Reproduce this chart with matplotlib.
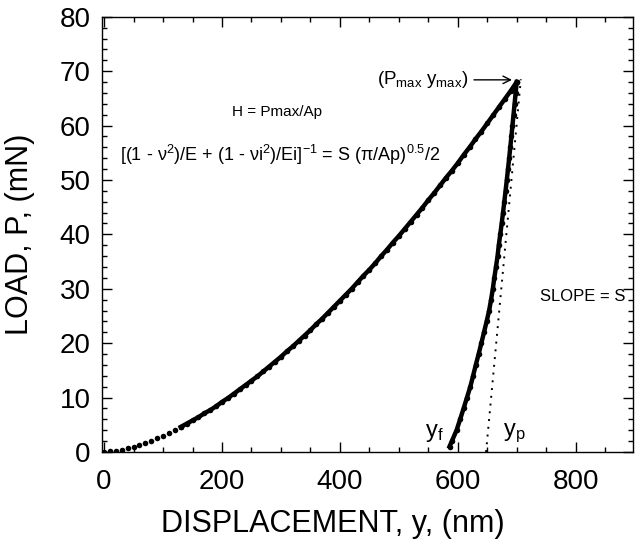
import matplotlib
matplotlib.use("Agg")
import matplotlib.pyplot as plt
from matplotlib.ticker import MultipleLocator

# 字体设置，Helvetica 风格
plt.rcParams['font.family'] = ['Liberation Sans', 'DejaVu Sans']
plt.rcParams['mathtext.fontset'] = 'custom'
plt.rcParams['mathtext.rm'] = 'Liberation Sans'
plt.rcParams['mathtext.it'] = 'Liberation Sans'
plt.rcParams['mathtext.default'] = 'regular'

# 加载曲线 (nm, mN)
load_disp = [0, 10, 20, 30, 40, 50, 60, 70, 80, 90,
             100, 110, 120, 130, 140, 150, 160, 170, 180, 190,
             200, 210, 220, 230, 240, 250, 260, 270, 280, 290,
             300, 310, 320, 330, 340, 350, 360, 370, 380, 390,
             400, 410, 420, 430, 440, 450, 460, 470, 480, 490,
             500, 510, 520, 530, 540, 550, 560, 570, 580, 590,
             600, 610, 620, 630, 640, 650, 660, 670, 680, 690, 700]
load_P = [0.0, 0.1, 0.2, 0.4, 0.7, 1.0, 1.3, 1.7, 2.1, 2.6,
          3.0, 3.5, 4.0, 4.6, 5.2, 5.8, 6.4, 7.1, 7.7, 8.4,
          9.2, 9.9, 10.7, 11.5, 12.3, 13.1, 13.9, 14.8, 15.7, 16.6,
          17.5, 18.5, 19.4, 20.4, 21.4, 22.4, 23.5, 24.5, 25.6, 26.7,
          27.8, 28.9, 30.0, 31.2, 32.4, 33.5, 34.7, 36.0, 37.2, 38.5,
          39.7, 41.0, 42.3, 43.6, 44.9, 46.3, 47.6, 49.0, 50.4, 51.7,
          53.1, 54.6, 56.0, 57.5, 58.9, 60.4, 61.9, 63.4, 64.9, 66.4, 68.0]

# 卸载曲线
unload_disp = [700, 698.2, 696.4, 694.6, 692.8, 691, 689.1, 687.2, 685.2, 683.2,
               681.1, 679, 676.8, 674.5, 672.1, 669.6, 667.5, 664.8, 662, 659.5,
               656.5, 653.2, 649, 644.5, 640, 635.4, 630.6, 626, 621.3, 615.6,
               609.9, 604, 598, 590, 586]
unload_P = [68, 66, 64, 62, 60, 58, 56, 54, 52, 50,
            48, 46, 44, 42, 40, 38, 36, 34, 32, 30,
            28, 26, 24, 22, 20, 18, 16, 14, 12, 10,
            8, 6, 4, 2, 1]

# 卸载初始斜率 S (虚线)
slope_disp = [648, 707]
slope_P = [0, 68.5]

fig = plt.figure(figsize=(6.36, 5.4), dpi=100)
ax = fig.add_axes([0.160, 0.163, 0.835, 0.806])

ax.plot(load_disp[:14], load_P[:14], 'o', color='black', ms=4, mec='none')
ax.plot(load_disp[13:], load_P[13:], '-o', color='black', lw=3.2, ms=4, mec='none')
ax.plot(unload_disp, unload_P, '-o', color='black', lw=3.2, ms=4, mec='none')
ax.plot(slope_disp, slope_P, color='black', lw=1.4, ls=(0, (1, 3)))

ax.set_xlim(-4, 897)
ax.set_ylim(0, 80)
ax.xaxis.set_major_locator(MultipleLocator(200))
ax.xaxis.set_minor_locator(MultipleLocator(50))
ax.yaxis.set_major_locator(MultipleLocator(10))
ax.yaxis.set_minor_locator(MultipleLocator(2))
ax.tick_params(which='both', direction='in', top=True, right=True, width=1)
ax.tick_params(which='major', length=7, labelsize=20)
ax.tick_params(which='minor', length=3.5)
ax.tick_params(axis='x', which='major', pad=12)
ax.tick_params(axis='y', which='major', pad=8)
for s in ax.spines.values():
    s.set_linewidth(1)

ax.set_xlabel("DISPLACEMENT, y, (nm)", fontsize=22)
ax.set_ylabel("LOAD, P, (mN)", fontsize=22)
ax.xaxis.set_label_coords(0.435, -0.13)
ax.yaxis.set_label_coords(-0.125, 0.5)

# 注释文字
ax.text(293, 62.5, "H = Pmax/Ap", fontsize=11, ha='center', va='center')
ax.text(27, 54.6, r"[(1 - $\nu^2$)/E + (1 - $\nu$i$^2$)/Ei]$^{-1}$ = S ($\pi$/Ap)$^{0.5}$/2",
        fontsize=13, ha='left', va='center')
ax.annotate("(P$_{max}$ y$_{max}$)", xy=(692, 68.4), xytext=(463, 68.4),
            fontsize=13.5, ha='left', va='center',
            arrowprops=dict(arrowstyle='->', color='black', lw=1,
                            shrinkA=2, shrinkB=0))
ax.text(739, 28.5, "SLOPE = S", fontsize=12, ha='left', va='center')
ax.text(544, 3.5, "y$_f$", fontsize=17, ha='left', va='center')
ax.text(676, 3.5, "y$_p$", fontsize=17, ha='left', va='center')

fig.savefig("out.png", dpi=100)
